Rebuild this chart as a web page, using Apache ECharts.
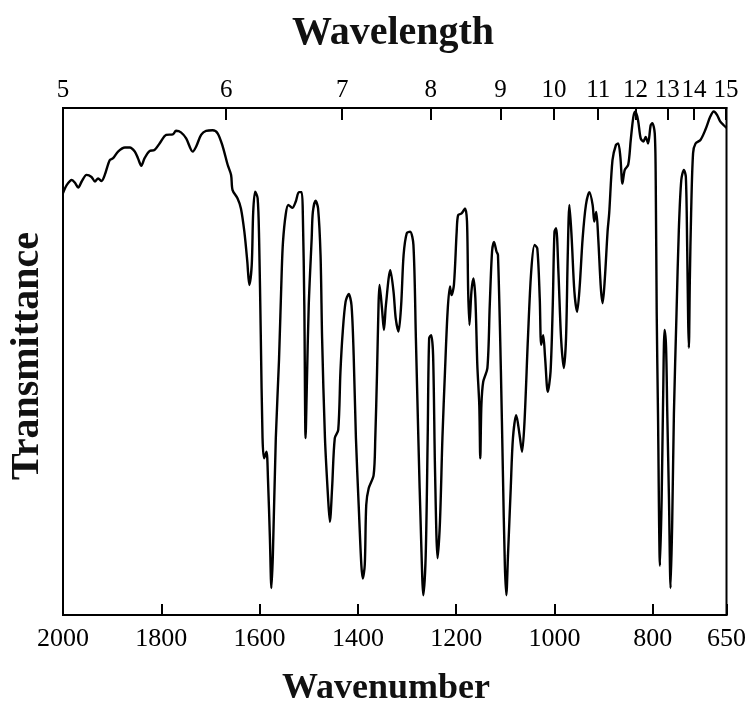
<!DOCTYPE html>
<html>
<head>
<meta charset="utf-8">
<script src="https://cdn.jsdelivr.net/npm/echarts@6/dist/echarts.min.js"></script>
<style>html,body{margin:0;padding:0;background:#fff}#c{width:749px;height:704px}</style>
</head>
<body>
<div id="c"></div>
<script>
// Wavenumber (cm^-1) of each traced point
const wavenumbers = [2000,1992.5,1982,1976,1969,1962,1952,1942,1935,1928.5,1921.6,1915,1905,1898,1888,1874,1864,1854,1847.5,1840.6,1834,1824,1814,1803.5,1790,1776.6,1770,1760,1749.4,1736,1729,1719,1709,1695.6,1685.4,1675,1665,1658,1655,1645,1638,1631,1625,1621,1616,1613,1609,1604,1601,1597.5,1594,1591,1586,1583,1579,1576,1573,1567,1560.5,1555,1552.4,1547,1541.6,1533.5,1526.6,1520,1514.5,1512,1509,1506.4,1504,1500,1494,1491.6,1486,1481,1476,1472.8,1467,1460.6,1457,1452.5,1447,1440,1435.5,1430.8,1425,1418.7,1413,1408.6,1404,1398.4,1393,1390,1386,1383,1378,1368,1364.6,1361,1358,1356,1351,1347,1343,1334,1327.5,1323,1317.4,1312,1307,1300.6,1293.7,1287,1282,1277,1271.4,1266.8,1262,1258,1255,1251,1247,1243,1237.8,1233,1228,1222.8,1217.5,1212.7,1209.5,1204.6,1199,1196,1189,1182,1178,1175.6,1173,1169,1165,1161,1157,1153,1151,1148.7,1145,1136.5,1131.7,1127,1123,1118,1115,1109,1105,1101,1098,1094.6,1089,1084.5,1077.8,1071,1066,1061,1054,1047.4,1040.5,1035,1030,1027,1023,1019,1013.6,1008,1003.5,1000,996.7,992,986.6,981,976.5,973,969.6,965,959.5,954,949,942.7,936,929,922.4,919,915,911,905.6,902,897.5,892,888.7,882,875,870.4,866,861.7,857,850,844.8,839.4,835.3,830,824.6,819,814.5,809.6,804.3,801,796,794,792,789.4,785.3,782,779,776,773,770.5,767,763.8,760.4,757,751.7,747,742,736.7,732.7,730,728,726.6,724.6,722,718,713,703,693,683,676,669,662.5,655.7,650];
// Transmittance (relative %, 0 = bottom of frame, 100 = top)
const transmittance = [83.2,84.8,85.8,85.3,84.3,85.5,86.8,86.4,85.5,86.1,85.6,86.8,89.7,90.1,91.4,92.2,92.2,91.4,90.1,88.6,90.1,91.5,91.7,93.0,94.7,94.8,95.5,95.2,94.0,91.4,92.4,94.7,95.5,95.6,95.0,92.4,88.8,86.8,83.8,82.2,80.2,75.6,69.7,65.1,69.0,79.5,83.5,82.2,74.3,54.6,34.9,30.9,32.2,27.0,15.1,5.3,11.8,34.9,50.3,67.7,73.6,78.9,80.9,80.3,81.5,83.4,83.4,78.9,61.1,34.9,44.7,61.1,74.3,79.5,81.7,80.2,71.0,54.6,34.9,23.0,18.4,25.0,34.9,36.5,48.0,55.9,61.8,63.3,61.1,51.3,34.9,21.7,9.9,7.2,9.9,21.7,25.0,27.6,34.9,48.0,61.1,65.1,60.5,56.2,61.1,68.0,63.8,58.5,55.9,61.1,71.0,75.3,75.6,73.0,54.6,34.9,15.1,3.9,11.8,34.9,54.6,55.2,51.3,28.3,11.2,18.4,34.9,48.0,59.8,64.8,63.1,65.1,75.6,78.9,79.2,80.2,77.6,63.8,57.2,63.8,66.4,62.5,49.3,41.4,30.9,41.4,46.0,48.7,61.1,71.7,73.6,71.7,71.0,48.0,28.3,9.9,3.9,11.8,25.0,34.9,39.4,35.5,32.2,38.1,54.6,67.7,73.0,72.3,62.5,53.3,55.2,50.6,44.0,48.0,61.1,75.6,76.3,67.7,54.6,48.7,54.6,71.0,80.9,74.3,63.8,59.8,64.4,74.3,80.9,83.4,80.9,77.6,79.5,74.3,64.4,61.5,66.4,75.6,79.2,89.7,92.7,93.0,90.4,85.1,87.8,88.8,93.7,98.3,99.3,97.6,94.0,93.4,94.3,93.0,96.6,97.0,95.0,85.8,59.5,39.8,9.7,22.7,42.4,56.2,52.9,39.8,22.7,5.3,18.7,39.8,59.5,75.9,85.8,87.8,86.4,72.6,58.2,52.7,66.1,79.2,91.1,93.0,93.7,95.7,98.3,99.3,98.6,97.3,96.6,96.1];

// Bottom axis (wavenumber) tick labels
const wavenumberTicks = [2000, 1800, 1600, 1400, 1200, 1000, 800, 650];
// Top axis (wavelength, µm) labels and their wavenumber positions
const wavelengthLabels = ['5','6','7','8','9','10','11','12','13','14','15'];
const wavelengthPositions = [2000, 1668, 1432, 1252, 1110, 1001, 911, 835, 770.5, 716, 651];

const chart = echarts.init(document.getElementById('c'), null, {renderer: 'canvas'});
const seriesData = wavenumbers.map((w, i) => [w, transmittance[i]]);
const serif = '"Liberation Serif", "DejaVu Serif", serif';

chart.setOption({
  animation: false,
  backgroundColor: '#fff',
  grid: {left: 63, right: 19, top: 108, bottom: 89, show: true, borderColor: '#000', borderWidth: 2},
  xAxis: [
    {
      type: 'value', position: 'bottom', min: 650, max: 2000, inverse: true,
      axisLine: {show: true, lineStyle: {color: '#000', width: 2}},
      splitLine: {show: false},
      axisTick: {show: true, inside: true, length: 11, customValues: wavenumberTicks, lineStyle: {color: '#000', width: 2}},
      axisLabel: {customValues: wavenumberTicks, margin: 11, color: '#000', fontFamily: serif, fontSize: 26,
        formatter: v => String(v)}
    },
    {
      type: 'value', position: 'top', min: 650, max: 2000, inverse: true,
      axisLine: {show: true, lineStyle: {color: '#000', width: 2}},
      splitLine: {show: false},
      axisTick: {show: true, inside: true, length: 12, customValues: wavelengthPositions, lineStyle: {color: '#000', width: 2}},
      axisLabel: {customValues: wavelengthPositions, margin: 5, color: '#000', fontFamily: serif, fontSize: 25,
        formatter: v => {
          const i = wavelengthPositions.indexOf(v);
          return i >= 0 ? wavelengthLabels[i] : '';
        }}
    }
  ],
  yAxis: {
    type: 'value', min: 0, max: 100,
    axisLine: {show: true, lineStyle: {color: '#000', width: 2}},
    axisTick: {show: false}, axisLabel: {show: false}, splitLine: {show: false}
  },
  series: [{
    type: 'line', xAxisIndex: 0, data: seriesData, showSymbol: false, smooth: 0.3,
    lineStyle: {color: '#000', width: 2.4}
  }],
  graphic: [
    {type: 'text', x: 393, y: 34, style: {text: 'Wavelength', font: 'bold 40px ' + serif, fill: '#111', textAlign: 'center', textVerticalAlign: 'middle'}},
    {type: 'text', x: 386, y: 689, style: {text: 'Wavenumber', font: 'bold 36px ' + serif, fill: '#111', textAlign: 'center', textVerticalAlign: 'middle'}},
    {type: 'text', x: 28, y: 356, rotation: Math.PI / 2, style: {text: 'Transmittance', font: 'bold 40px ' + serif, fill: '#111', textAlign: 'center', textVerticalAlign: 'middle'}}
  ]
});
</script>
</body>
</html>
